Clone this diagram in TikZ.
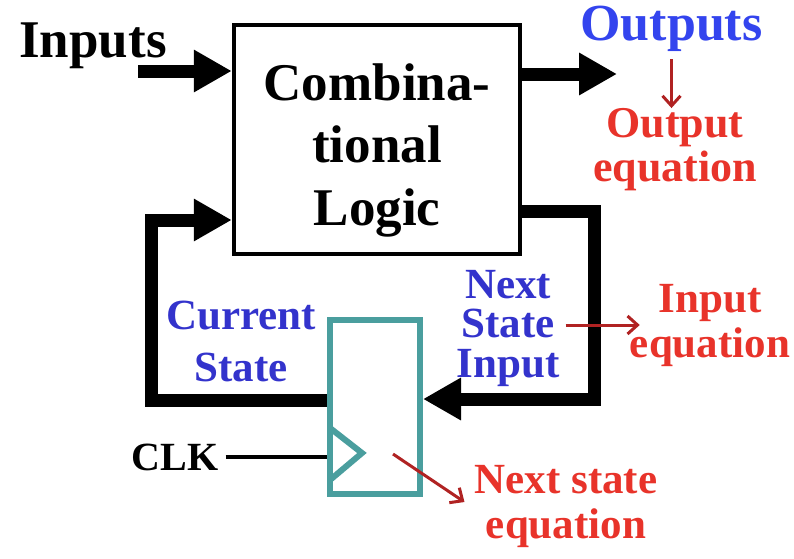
\documentclass[tikz,border=0pt]{standalone}
\usepackage{fontspec}
\setmainfont{Liberation Serif}
\usetikzlibrary{arrows.meta}
\definecolor{ffteal}{HTML}{4A9E9E}
\definecolor{outblue}{HTML}{3344EE}
\definecolor{stateblue}{HTML}{3333CC}
\definecolor{eqred}{HTML}{E8332A}
\definecolor{arrred}{HTML}{B02222}
\begin{document}
\begin{tikzpicture}[x=1pt,y=1pt,
  bus/.style={black,line width=13pt,-{Triangle[length=38pt,width=40pt]}},
  eqarrow/.style={arrred,line width=3pt,-{Straight Barb[length=10pt,width=18pt]}},
  big/.style={font=\fontsize{53}{62.5}\selectfont\bfseries},
  small/.style={font=\fontsize{43}{52}\selectfont\bfseries}]
\tikzstyle{every node}+=[inner sep=0pt]
\useasboundingbox (0,0) rectangle (794,-558);
\node [draw,black,line width=4.5pt,minimum width=286pt,minimum height=229pt] (comb) at (377,-139.5) {};
\draw (377,-150) node [big,align=center] (combtext) {Combina-\\tional\\Logic};
\node [draw=ffteal,line width=6pt,minimum width=90pt,minimum height=174pt] (ff) at (375,-407) {};
\draw [ffteal,line width=6pt] (330,-428) -- (362,-453) -- (330,-480);
\draw (93,-57) node [big,anchor=base] (inputs) {Inputs};
\draw (671.5,-40) node [font=\fontsize{52}{60}\selectfont\bfseries,anchor=base,outblue] (outputs) {Outputs};
\draw (175,-470) node [font=\fontsize{40}{48}\selectfont\bfseries,anchor=base] (clk) {CLK};
\draw (241,-341) node [small,align=center,stateblue] (cs) {Current\\State};
\draw (508,-328) node [small,align=center,stateblue,font=\fontsize{43}{39.5}\selectfont\bfseries] (nsi) {Next\\State\\Input};
\draw (675,-149.5) node [align=center,eqred,font=\fontsize{44}{44}\selectfont\bfseries] (outeq) {Output\\equation};
\draw (710,-325) node [align=center,eqred,font=\fontsize{43}{45}\selectfont\bfseries] (ineq) {Input\\equation};
\draw (566,-506) node [align=center,eqred,font=\fontsize{43}{45}\selectfont\bfseries] (nseq) {Next state\\equation};
% buses
\coordinate (inl) at (138,-71);
\coordinate (outr) at (617,-74);
\coordinate (nsa) at (594,-211);
\coordinate (nsb) at (594,-399);
\coordinate (csa) at (151,-400);
\coordinate (csb) at (151,-220);
\draw [bus] (inl) -- (inl -| comb.west);
\draw [bus] (outr -| comb.east) -- (outr);
\draw [bus] (nsa -| comb.east) -- (nsa) -- (nsb) -- (nsb -| ff.east);
\draw [bus] (csa -| ff.west) -- (csa) -- (csb) -- (csb -| comb.west);
\draw [black,line width=4pt,shorten <=7pt] (clk.east) -- (clk.east -| ff.west);
% equation pointers
\draw [eqarrow,shorten <=8pt] (outputs.south) -- (outputs.south |- outeq.north);
\draw [eqarrow,shorten <=6pt] (nsi.east |- ineq.west) -- ([xshift=10pt]ineq.west);
\draw [eqarrow] ([xshift=18pt,yshift=-47pt]ff.center) -- ([xshift=-10pt,yshift=4pt]nseq.west);
\end{tikzpicture}
\end{document}
